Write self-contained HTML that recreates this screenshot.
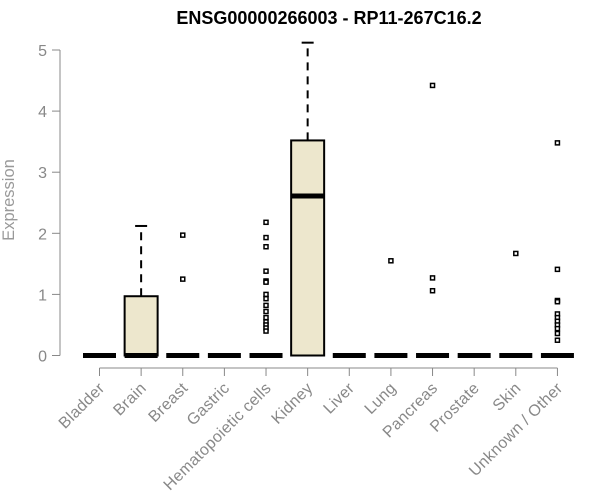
<!DOCTYPE html>
<html><head><meta charset="utf-8"><style>
body{margin:0;background:#fff;}
svg{display:block;font-family:"Liberation Sans",Arial,sans-serif;}
</style></head><body>
<svg id="chart" width="600" height="500">
<text x="329" y="24" text-anchor="middle" font-size="18" font-weight="bold">ENSG00000266003 - RP11-267C16.2</text>
<text transform="translate(14,200) rotate(-90)" text-anchor="middle" font-size="16.5" fill="#999">Expression</text>
<g id="yaxis"></g>
<g id="xaxis"></g>
<g id="boxes"></g>
</svg>
<script>
const categories=["Bladder","Brain","Breast","Gastric","Hematopoietic cells","Kidney","Liver","Lung","Pancreas","Prostate","Skin","Unknown / Other"];
const q1=[0,0,0,0,0,0,0,0,0,0,0,0];
const medians=[0,0,0,0,0,2.61,0,0,0,0,0,0];
const q3=[0,0.97,0,0,0,3.52,0,0,0,0,0,0];
const whiskerHigh=[0,2.12,0,0,0,5.12,0,0,0,0,0,0];
const outliers=[[],[],[1.97,1.25],[],[2.18,1.93,1.78,1.38,1.22,1.2,1.0,0.93,0.82,0.72,0.62,0.55,0.5,0.45,0.4],[],[],[1.55],[4.42,1.27,1.06],[],[1.67],[3.48,1.41,0.9,0.88,0.68,0.62,0.56,0.5,0.44,0.36,0.25]];
const yTicks=[0,1,2,3,4,5];
const NS="http://www.w3.org/2000/svg";
function yS(v){return 355.5-v*61.1;}
function xS(i){return 99.5+i*41.63;}
function mk(tag,attrs,parent){const e=document.createElementNS(NS,tag);for(const k in attrs)e.setAttribute(k,attrs[k]);parent.appendChild(e);return e;}
const ya=document.getElementById('yaxis'),xa=document.getElementById('xaxis'),bx=document.getElementById('boxes');
let l=mk('line',{x1:60,x2:60,y1:yS(5),y2:yS(0),stroke:'#888'},ya);


yTicks.forEach(t=>{
 const tk=mk('line',{x1:52,x2:60,y1:yS(t),y2:yS(t),stroke:'#888'},ya);
 
 
 const tx=mk('text',{x:47,y:yS(t)+6,'text-anchor':'end','font-size':16,fill:'#888'},ya);
 tx.textContent=t;
 
 
});
l=mk('line',{x1:xS(0),x2:xS(categories.length-1),y1:368,y2:368,stroke:'#888'},xa);


categories.forEach((c,i)=>{
 const x=xS(i);
 const tk=mk('line',{x1:x,x2:x,y1:368,y2:376,stroke:'#888'},xa);
 
 
 const tx=mk('text',{transform:`translate(${x+6},${389}) rotate(-45)`,'text-anchor':'end','font-size':16,'letter-spacing':'0.3',fill:'#888'},xa);
 tx.textContent=c;
 
 
 const g=mk('g',{},bx);
 
 
 const hw=16.5;
 if(q3[i]>q1[i]){
  mk('rect',{x:x-hw,y:yS(q3[i]),width:2*hw,height:yS(q1[i])-yS(q3[i]),fill:'#ede7cd',stroke:'#000','stroke-width':2},g);
 }
 if(whiskerHigh[i]>q3[i]){
  mk('line',{x1:x,x2:x,y1:yS(q3[i]),y2:yS(whiskerHigh[i]),stroke:'#000','stroke-width':2,'stroke-dasharray':'8,6'},g);
  mk('line',{x1:x-6,x2:x+6,y1:yS(whiskerHigh[i]),y2:yS(whiskerHigh[i]),stroke:'#000','stroke-width':2},g);
 }
 mk('line',{x1:x-hw,x2:x+hw,y1:yS(medians[i]),y2:yS(medians[i]),stroke:'#000','stroke-width':5},g);
 outliers[i].forEach(v=>{
  const r=mk('rect',{x:x-2,y:yS(v)-2,width:4,height:4,fill:'#fff',stroke:'#000','stroke-width':1.5},g);
  
  
 });
});
</script>
</body></html>
